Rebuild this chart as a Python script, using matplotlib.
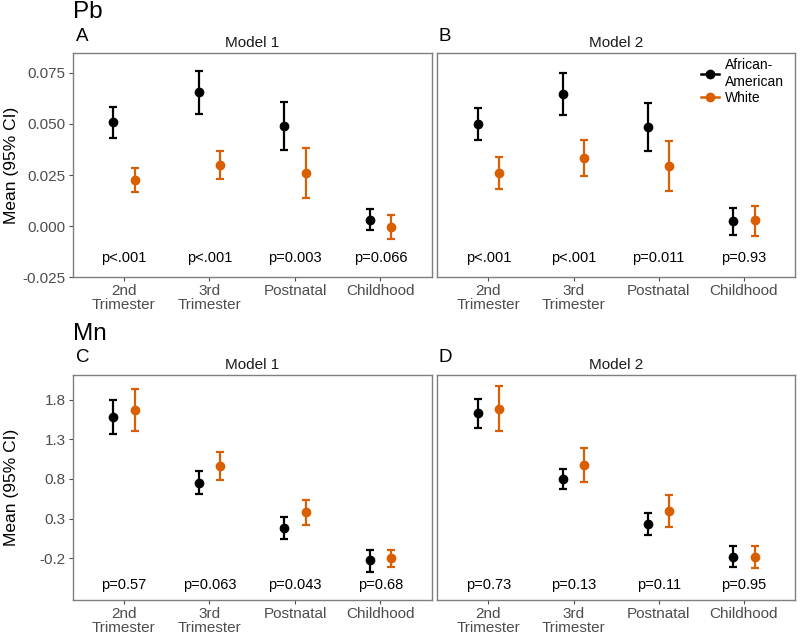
import matplotlib
matplotlib.use("Agg")
import matplotlib.pyplot as plt
from matplotlib.lines import Line2D
import numpy as np

plt.rcParams['font.family'] = ['Liberation Sans', 'DejaVu Sans']

categories = ["2nd\nTrimester", "3rd\nTrimester", "Postnatal", "Childhood"]
groups = ["African-\nAmerican", "White"]
colors = ["#000000", "#D95F02"]

# Pb Model 1
pbA_aa_mean = [0.0507, 0.0654, 0.0490, 0.0031]
pbA_aa_lo = [0.0433, 0.0547, 0.0373, -0.0020]
pbA_aa_hi = [0.0582, 0.0760, 0.0606, 0.0083]
pbA_w_mean = [0.0225, 0.0299, 0.0260, -0.0005]
pbA_w_lo = [0.0165, 0.0232, 0.0139, -0.0065]
pbA_w_hi = [0.0286, 0.0366, 0.0382, 0.0057]
pbA_p = ["p<.001", "p<.001", "p=0.003", "p=0.066"]

# Pb Model 2
pbB_aa_mean = [0.0500, 0.0647, 0.0484, 0.0026]
pbB_aa_lo = [0.0420, 0.0544, 0.0366, -0.0042]
pbB_aa_hi = [0.0580, 0.0750, 0.0601, 0.0090]
pbB_w_mean = [0.0261, 0.0333, 0.0294, 0.0029]
pbB_w_lo = [0.0183, 0.0247, 0.0170, -0.0046]
pbB_w_hi = [0.0337, 0.0420, 0.0417, 0.0101]
pbB_p = ["p<.001", "p<.001", "p=0.011", "p=0.93"]

# Mn Model 1
mnC_aa_mean = [1.577, 0.752, 0.183, -0.225]
mnC_aa_lo = [1.362, 0.613, 0.044, -0.373]
mnC_aa_hi = [1.792, 0.895, 0.318, -0.091]
mnC_w_mean = [1.669, 0.962, 0.377, -0.200]
mnC_w_lo = [1.408, 0.785, 0.221, -0.309]
mnC_w_hi = [1.935, 1.135, 0.533, -0.091]
mnC_p = ["p=0.57", "p=0.063", "p=0.043", "p=0.68"]

# Mn Model 2
mnD_aa_mean = [1.627, 0.802, 0.234, -0.179]
mnD_aa_lo = [1.446, 0.672, 0.099, -0.314]
mnD_aa_hi = [1.813, 0.928, 0.368, -0.044]
mnD_w_mean = [1.686, 0.975, 0.394, -0.183]
mnD_w_lo = [1.400, 0.760, 0.196, -0.326]
mnD_w_hi = [1.968, 1.194, 0.592, -0.044]
mnD_p = ["p=0.73", "p=0.13", "p=0.11", "p=0.95"]

pb_ticks = [-0.025, 0.000, 0.025, 0.050, 0.075]
pb_ticklabels = ["-0.025", "0.000", "0.025", "0.050", "0.075"]
mn_ticks = [-0.2, 0.3, 0.8, 1.3, 1.8]
mn_ticklabels = ["-0.2", "0.3", "0.8", "1.3", "1.8"]

fig = plt.figure(figsize=(8, 6.36), dpi=100)
W, H = 800, 636

def rect(x0, y0, x1, y1):
    return [x0 / W, 1 - y1 / H, (x1 - x0) / W, (y1 - y0) / H]

axA = fig.add_axes(rect(72.7, 52.7, 431.7, 277.3))
axB = fig.add_axes(rect(437.3, 52.7, 795.0, 277.3))
axC = fig.add_axes(rect(72.7, 374.5, 431.7, 600.0))
axD = fig.add_axes(rect(437.3, 374.5, 795.0, 600.0))

grey_tick = "#4D4D4D"
border = "#7F7F7F"
x = np.arange(1, len(categories) + 1)
dodge = 0.125

def draw(ax, aa, w, pvals, ylim, ptext_y, ticks, ticklabels, title, show_y):
    for k, (m, lo, hi) in enumerate([aa, w]):
        m = np.array(m); lo = np.array(lo); hi = np.array(hi)
        xs = x + (-dodge if k == 0 else dodge)
        ax.errorbar(xs, m, yerr=[m - lo, hi - m], fmt='o', color=colors[k],
                    ecolor=colors[k], elinewidth=1.6, capsize=3.0, capthick=1.6,
                    markersize=6, zorder=3)
    for xi, p in zip(x, pvals):
        ax.text(xi, ptext_y, p, ha='center', va='center', fontsize=10.5, color='black')
    ax.set_xlim(0.4, 4.6)
    ax.set_ylim(*ylim)
    ax.set_xticks(x)
    ax.set_xticklabels(categories, fontsize=11, color=grey_tick, linespacing=1.0)
    ax.set_yticks(ticks)
    if show_y:
        ax.set_yticklabels(ticklabels, fontsize=11, color=grey_tick)
        ax.set_ylabel("Mean (95% CI)", fontsize=12.5, color='black')
        ax.yaxis.set_label_coords(-0.15, 0.5)
    else:
        ax.tick_params(axis='y', left=False, labelleft=False)
    ax.tick_params(axis='both', colors=grey_tick, length=3, width=0.8, pad=2)
    for s in ax.spines.values():
        s.set_color(border)
        s.set_linewidth(1.0)
    ax.set_title(title, fontsize=11, color='#1A1A1A', pad=4)

draw(axA, (pbA_aa_mean, pbA_aa_lo, pbA_aa_hi), (pbA_w_mean, pbA_w_lo, pbA_w_hi),
     pbA_p, (-0.025, 0.0848), -0.0158, pb_ticks, pb_ticklabels, "Model 1", True)
draw(axB, (pbB_aa_mean, pbB_aa_lo, pbB_aa_hi), (pbB_w_mean, pbB_w_lo, pbB_w_hi),
     pbB_p, (-0.025, 0.0848), -0.0158, pb_ticks, pb_ticklabels, "Model 2", False)
draw(axC, (mnC_aa_mean, mnC_aa_lo, mnC_aa_hi), (mnC_w_mean, mnC_w_lo, mnC_w_hi),
     mnC_p, (-0.726, 2.116), -0.54, mn_ticks, mn_ticklabels, "Model 1", True)
draw(axD, (mnD_aa_mean, mnD_aa_lo, mnD_aa_hi), (mnD_w_mean, mnD_w_lo, mnD_w_hi),
     mnD_p, (-0.726, 2.116), -0.54, mn_ticks, mn_ticklabels, "Model 2", False)

handles = [Line2D([0], [0], color=colors[k], marker='o', markersize=6, linewidth=1.8)
           for k in range(2)]
axB.legend(handles, groups, loc='upper right', bbox_to_anchor=(0.97, 0.975),
           frameon=False, fontsize=10, handlelength=1.3, handletextpad=0.45,
           labelspacing=0.15, borderaxespad=0.0, borderpad=0.0)

# Labels
fig.text(73 / W, 1 - 12 / H, "Pb", fontsize=17.5, va='center', ha='left')
fig.text(76 / W, 1 - 36.5 / H, "A", fontsize=13.5, va='center', ha='left')
fig.text(439 / W, 1 - 36.5 / H, "B", fontsize=13.5, va='center', ha='left')
fig.text(73 / W, 1 - 334 / H, "Mn", fontsize=17.5, va='center', ha='left')
fig.text(76 / W, 1 - 357 / H, "C", fontsize=13.5, va='center', ha='left')
fig.text(439 / W, 1 - 357 / H, "D", fontsize=13.5, va='center', ha='left')

fig.savefig("out.png", dpi=100)
